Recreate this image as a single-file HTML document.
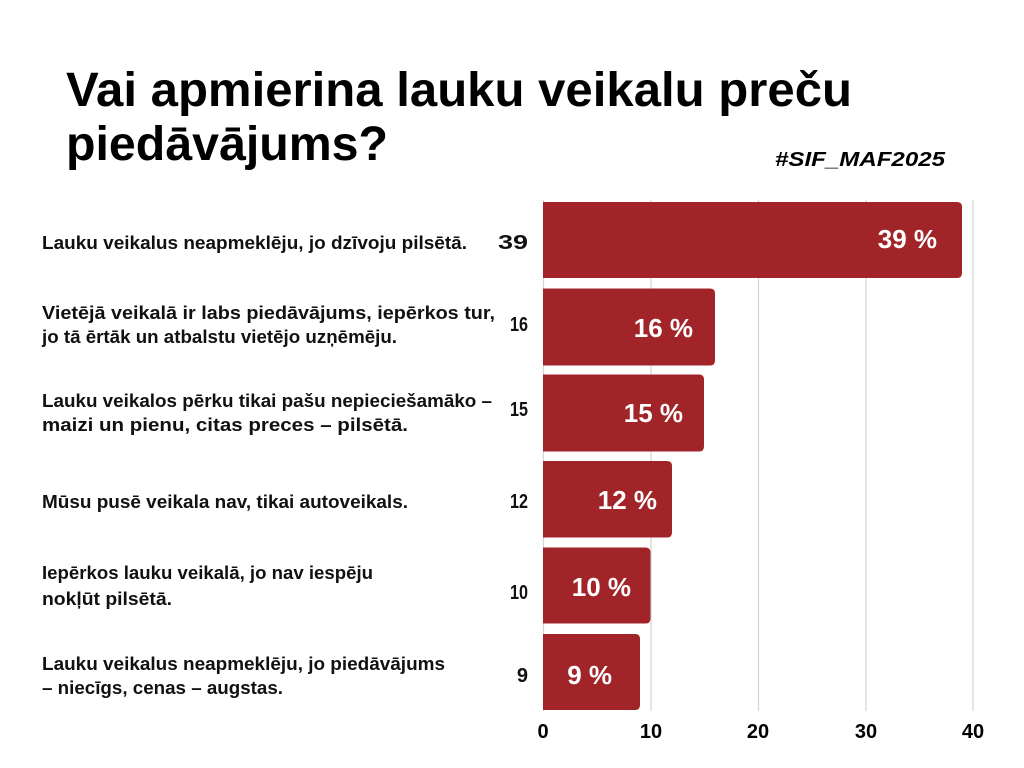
<!DOCTYPE html>
<html>
<head>
<meta charset="utf-8">
<style>
  html,body{margin:0;padding:0;background:#fff;}
  svg{display:block;}
  text{font-family:"Liberation Sans", sans-serif;}
</style>
</head>
<body>
<svg width="1024" height="768" viewBox="0 0 1024 768" xmlns="http://www.w3.org/2000/svg">
  <rect width="1024" height="768" fill="#ffffff"/>

  <!-- Title -->
  <text x="66" y="106" font-size="48" font-weight="bold" fill="#000" textLength="786" lengthAdjust="spacingAndGlyphs">Vai apmierina lauku veikalu preču</text>
  <text x="66" y="160" font-size="48" font-weight="bold" fill="#000" textLength="322" lengthAdjust="spacingAndGlyphs">piedāvājums?</text>
  <text x="775" y="166" font-size="20" font-weight="bold" font-style="italic" fill="#000" textLength="170" lengthAdjust="spacingAndGlyphs">#SIF_MAF2025</text>

  <!-- Gridlines -->
  <g stroke="#d4d4d4" stroke-width="1.2">
    <line x1="543.5" y1="200" x2="543.5" y2="711"/>
    <line x1="651" y1="200" x2="651" y2="711"/>
    <line x1="758.5" y1="200" x2="758.5" y2="711"/>
    <line x1="866" y1="200" x2="866" y2="711"/>
    <line x1="973" y1="200" x2="973" y2="711"/>
  </g>

  <!-- Bars -->
  <g fill="#a02428">
    <path d="M543 202 H957 Q962 202 962 207 V273 Q962 278 957 278 H543 Z"/>
    <path d="M543 288.5 H710 Q715 288.5 715 293.5 V360.5 Q715 365.5 710 365.5 H543 Z"/>
    <path d="M543 374.5 H699 Q704 374.5 704 379.5 V446.5 Q704 451.5 699 451.5 H543 Z"/>
    <path d="M543 461 H667 Q672 461 672 466 V532.5 Q672 537.5 667 537.5 H543 Z"/>
    <path d="M543 547.5 H645.5 Q650.5 547.5 650.5 552.5 V618.5 Q650.5 623.5 645.5 623.5 H543 Z"/>
    <path d="M543 634 H635 Q640 634 640 639 V705 Q640 710 635 710 H543 Z"/>
  </g>

  <!-- Bar percentage labels -->
  <g fill="#ffffff" font-size="26" font-weight="bold" text-anchor="end">
    <text x="937" y="248">39 %</text>
    <text x="693" y="337">16 %</text>
    <text x="683" y="422">15 %</text>
    <text x="657" y="509">12 %</text>
    <text x="631" y="596">10 %</text>
    <text x="612" y="684">9 %</text>
  </g>

  <!-- Value numbers -->
  <g fill="#111" font-size="20" font-weight="bold" text-anchor="end">
    <text x="528" y="249" textLength="30" lengthAdjust="spacingAndGlyphs">39</text>
    <text x="528" y="331" textLength="18" lengthAdjust="spacingAndGlyphs">16</text>
    <text x="528" y="416" textLength="18" lengthAdjust="spacingAndGlyphs">15</text>
    <text x="528" y="508" textLength="18" lengthAdjust="spacingAndGlyphs">12</text>
    <text x="528" y="599" textLength="18" lengthAdjust="spacingAndGlyphs">10</text>
    <text x="528" y="682">9</text>
  </g>

  <!-- Category labels -->
  <g fill="#111" font-size="18" font-weight="bold">
    <text x="42" y="249" textLength="425" lengthAdjust="spacingAndGlyphs">Lauku veikalus neapmeklēju, jo dzīvoju pilsētā.</text>

    <text x="42" y="319" textLength="453" lengthAdjust="spacingAndGlyphs">Vietējā veikalā ir labs piedāvājums, iepērkos tur,</text>
    <text x="42" y="343" textLength="355" lengthAdjust="spacingAndGlyphs">jo tā ērtāk un atbalstu vietējo uzņēmēju.</text>

    <text x="42" y="407" textLength="450" lengthAdjust="spacingAndGlyphs">Lauku veikalos pērku tikai pašu nepieciešamāko –</text>
    <text x="42" y="431" textLength="366" lengthAdjust="spacingAndGlyphs">maizi un pienu, citas preces – pilsētā.</text>

    <text x="42" y="508" textLength="366" lengthAdjust="spacingAndGlyphs">Mūsu pusē veikala nav, tikai autoveikals.</text>

    <text x="42" y="579" textLength="331" lengthAdjust="spacingAndGlyphs">Iepērkos lauku veikalā, jo nav iespēju</text>
    <text x="42" y="605" textLength="130" lengthAdjust="spacingAndGlyphs">nokļūt pilsētā.</text>

    <text x="42" y="670" textLength="403" lengthAdjust="spacingAndGlyphs">Lauku veikalus neapmeklēju, jo piedāvājums</text>
    <text x="42" y="694" textLength="241" lengthAdjust="spacingAndGlyphs">– niecīgs, cenas – augstas.</text>
  </g>

  <!-- X-axis tick labels -->
  <g fill="#000" font-size="20" font-weight="bold" text-anchor="middle">
    <text x="543" y="738">0</text>
    <text x="651" y="738">10</text>
    <text x="758" y="738">20</text>
    <text x="866" y="738">30</text>
    <text x="973" y="738">40</text>
  </g>
</svg>
</body>
</html>
